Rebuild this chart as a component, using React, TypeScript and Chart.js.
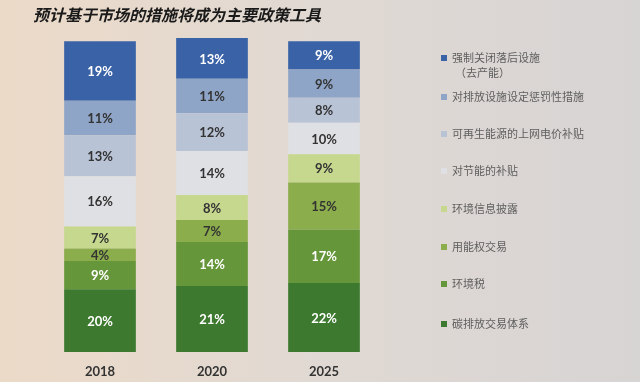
import React, { useEffect, useRef } from "react";
import { Chart, registerables } from "chart.js";

Chart.register(...registerables);

const title = "预计基于市场的措施将成为主要政策工具";
const years = ["2018", "2020", "2025"];

// bottom to top
const seriesNames = [
  "碳排放交易体系",
  "环境税",
  "用能权交易",
  "环境信息披露",
  "对节能的补贴",
  "可再生能源的上网电价补贴",
  "对排放设施设定惩罚性措施",
  "强制关闭落后设施",
];
const carbonTrading = [20, 21, 22];
const envTax = [9, 14, 17];
const energyRights = [4, 7, 15];
const envDisclosure = [7, 8, 9];
const energySavingSubsidy = [16, 14, 10];
const feedInTariff = [13, 12, 8];
const emissionPenalty = [11, 11, 9];
const forcedClosure = [19, 13, 9];

const seriesValues = [
  carbonTrading,
  envTax,
  energyRights,
  envDisclosure,
  energySavingSubsidy,
  feedInTariff,
  emissionPenalty,
  forcedClosure,
];
const seriesColors = [
  "#3d7a2f",
  "#66963a",
  "#8cad4c",
  "#c6d88e",
  "#dfe0e3",
  "#b9c3d6",
  "#8fa5c7",
  "#3a62a7",
];
const labelColors = ["#ffffff", "#ffffff", "#333333", "#333333", "#333333", "#333333", "#333333", "#ffffff"];

// legend listed top to bottom
const legendLines: string[][] = [
  ["强制关闭落后设施", "（去产能）"],
  ["对排放设施设定惩罚性措施"],
  ["可再生能源的上网电价补贴"],
  ["对节能的补贴"],
  ["环境信息披露"],
  ["用能权交易"],
  ["环境税"],
  ["碳排放交易体系"],
];

export default function App() {
  const ref = useRef<HTMLCanvasElement | null>(null);

  useEffect(() => {
    document.body.style.margin = "0";
    const canvas = ref.current;
    if (!canvas) return;

    const bgPlugin = {
      id: "bg",
      beforeDraw(chart: any) {
        const { ctx, width, height } = chart;
        const g = ctx.createLinearGradient(0, 0, width, 0);
        g.addColorStop(0, "#ecdac8");
        g.addColorStop(0.5, "#e0d9d3");
        g.addColorStop(1, "#d7d4d4");
        ctx.save();
        ctx.fillStyle = g;
        ctx.fillRect(0, 0, width, height);
        ctx.restore();
      },
    };

    const labelPlugin = {
      id: "segLabels",
      afterDatasetsDraw(chart: any) {
        const { ctx } = chart;
        ctx.save();
        ctx.font = "bold 13px Lato, 'Open Sans', sans-serif";
        ctx.textAlign = "center";
        ctx.textBaseline = "middle";
        chart.data.datasets.forEach((ds: any, di: number) => {
          const meta = chart.getDatasetMeta(di);
          meta.data.forEach((bar: any, i: number) => {
            const p = bar.getProps(["x", "y", "base"], true);
            const cy = (p.y + p.base) / 2;
            ctx.fillStyle = labelColors[di];
            ctx.fillText(ds.data[i] + "%", p.x, cy + 1);
          });
        });
        ctx.restore();
      },
    };

    const extrasPlugin = {
      id: "extras",
      afterDraw(chart: any) {
        const { ctx } = chart;
        ctx.save();
        // title
        ctx.font = "italic bold 16px 'Noto Sans CJK SC', sans-serif";
        ctx.fillStyle = "#1a1a1a";
        ctx.textAlign = "left";
        ctx.textBaseline = "middle";
        ctx.fillText(title, 33, 15);
        // legend
        const ys = [58, 97, 134, 171, 209, 247, 284, 324];
        ctx.font = "11px 'Noto Sans CJK SC', sans-serif";
        legendLines.forEach((lines, k) => {
          const di = seriesNames.length - 1 - k;
          const y = ys[k];
          ctx.fillStyle = seriesColors[di];
          ctx.fillRect(441, y - 3, 6, 6);
          ctx.fillStyle = "#5e5e5e";
          lines.forEach((t, li) => {
            ctx.fillText(t, li === 0 ? 452 : 455, y + li * 15);
          });
        });
        ctx.restore();
      },
    };

    const chart = new Chart(canvas, {
      type: "bar",
      data: {
        labels: years,
        datasets: seriesNames.map((name, i) => ({
          label: name,
          data: seriesValues[i],
          backgroundColor: seriesColors[i],
          borderWidth: 0,
          barPercentage: 0.64,
          categoryPercentage: 1,
        })),
      },
      options: {
        animation: false,
        responsive: true,
        maintainAspectRatio: false,
        layout: { padding: { left: 44, right: 260, top: 38, bottom: 0 } },
        plugins: {
          legend: { display: false },
          tooltip: { enabled: false },
          title: { display: false },
        },
        scales: {
          x: {
            stacked: true,
            grid: { display: false, drawTicks: false },
            border: { display: false },
            afterFit(scale: any) {
              scale.height = 30;
            },
            ticks: {
              color: "#333333",
              padding: 12,
              font: { family: "Lato, 'Open Sans', sans-serif", size: 13, weight: "bold" },
            },
          },
          y: {
            stacked: true,
            display: false,
            min: 0,
            max: 100,
          },
        },
      },
      plugins: [bgPlugin, labelPlugin, extrasPlugin],
    });
    return () => chart.destroy();
  }, []);

  return (
    <div style={{ width: 640, height: 382, position: "relative" }}>
      <canvas ref={ref} />
    </div>
  );
}
